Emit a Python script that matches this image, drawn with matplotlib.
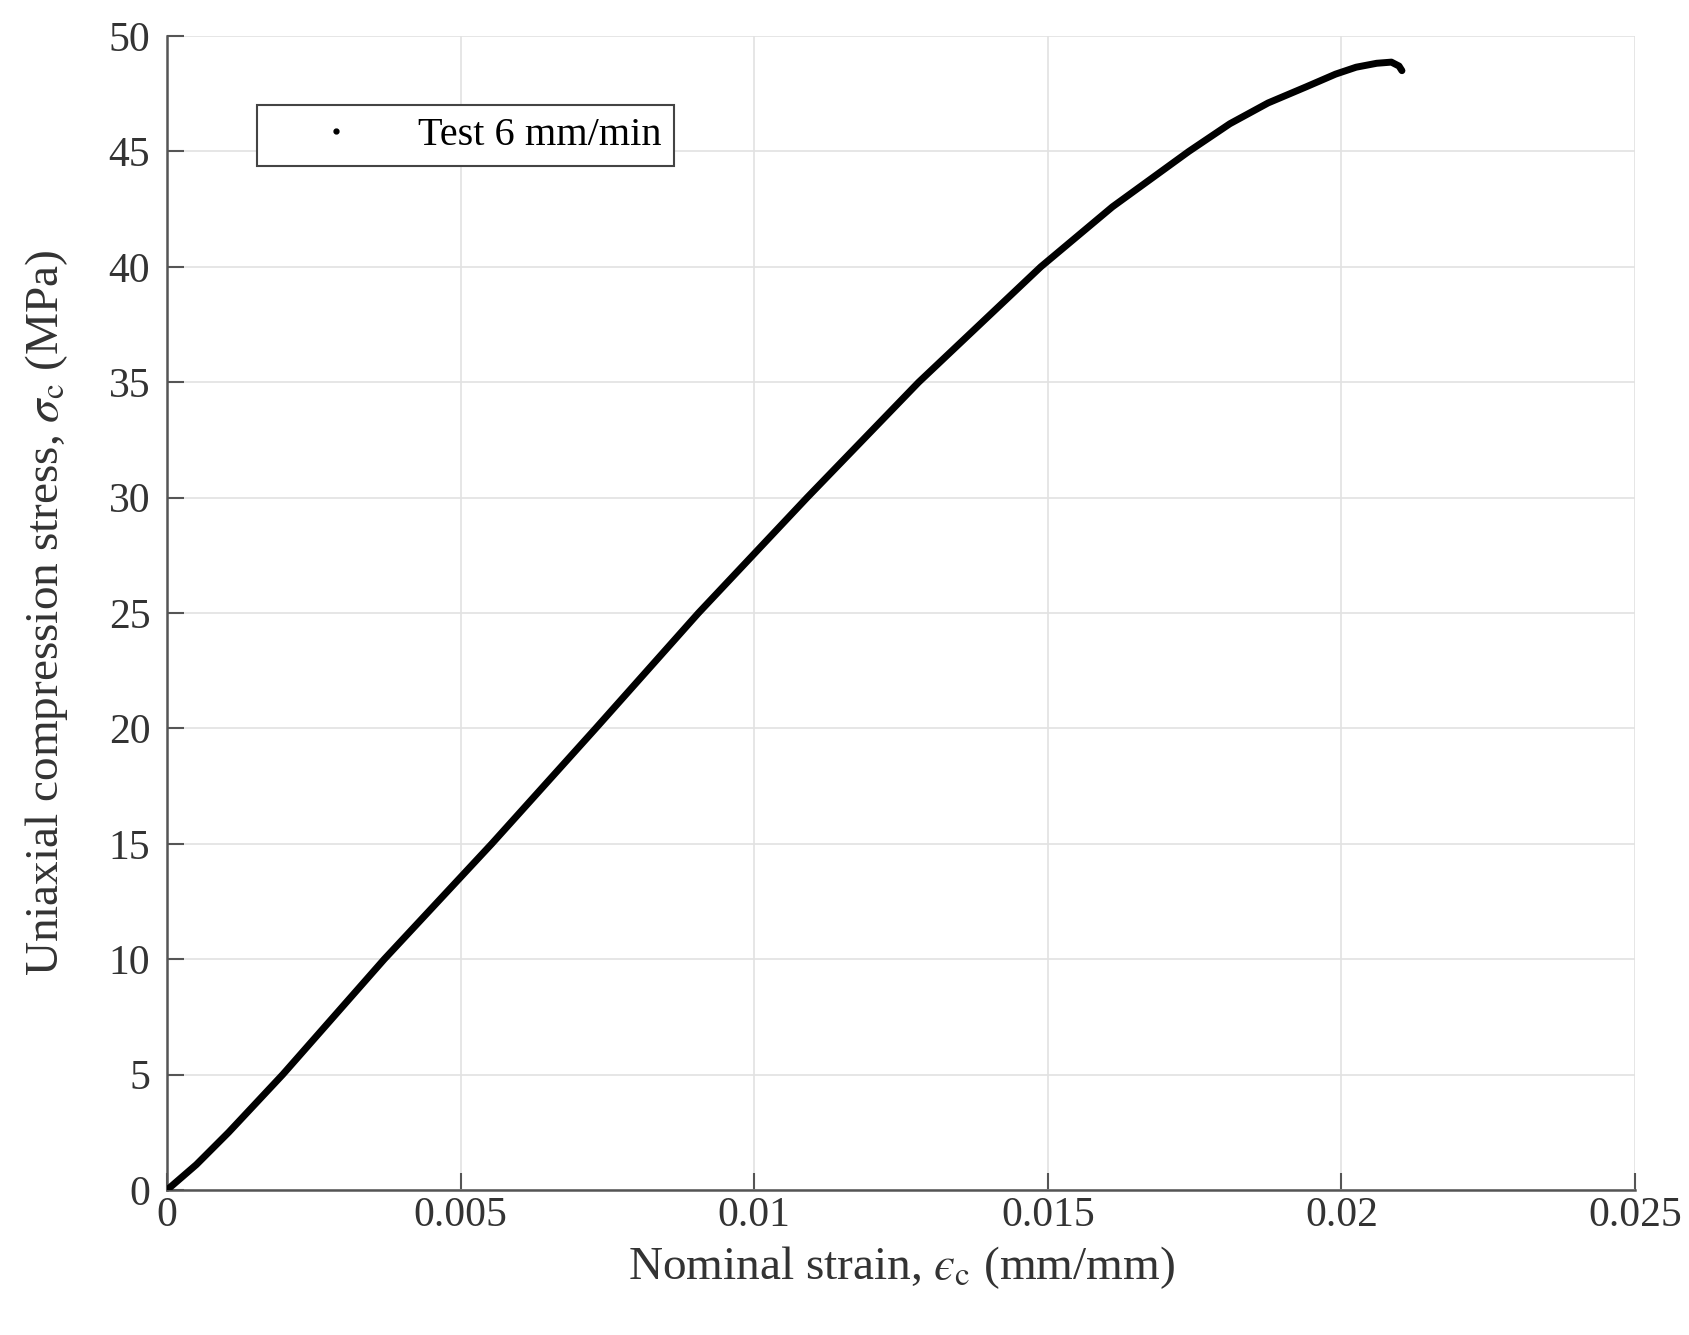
""" Stress-strain curve, uniaxial compression """
import matplotlib
matplotlib.use("Agg")
import matplotlib.pyplot as plt
from matplotlib.lines import Line2D

""" Data read off the curve """
strain = [0, 0.00050, 0.00105, 0.00197, 0.00370, 0.00553, 0.00730,
          0.00905, 0.01090, 0.01280, 0.01488, 0.01610, 0.01740, 0.01810,
          0.01875, 0.01940, 0.01990, 0.02025, 0.02060, 0.02085, 0.02098,
          0.02103]
stress = [0, 1.1, 2.5, 5, 10, 15, 20,
          25, 30, 35, 40, 42.6, 45, 46.2,
          47.1, 47.8, 48.35, 48.65, 48.82, 48.87, 48.7,
          48.5]
series_label = "Test 6 mm/min"
x_ticks = [0, 0.005, 0.01, 0.015, 0.02, 0.025]
x_ticklabels = ["0", "0.005", "0.01", "0.015", "0.02", "0.025"]
y_ticks = [0, 5, 10, 15, 20, 25, 30, 35, 40, 45, 50]

plt.rcParams['font.family'] = ['Liberation Serif', 'DejaVu Serif']
plt.rcParams['mathtext.fontset'] = 'stix'

fig = plt.figure(figsize=(16.9, 13.35), dpi=100)
ax = fig.add_axes([0.0988, 0.1086, 0.8687, 0.8644])

ax.plot(strain, stress, color='black', lw=5, solid_capstyle='round',
        solid_joinstyle='round', zorder=3)

ax.set_xlim(0, 0.025)
ax.set_ylim(0, 50)
ax.set_xticks(x_ticks)
ax.set_xticklabels(x_ticklabels)
ax.set_yticks(y_ticks)

# matlab-ish look: light grid, inward ticks, no box
ax.grid(True, color='#e2e2e2', lw=1.2)
ax.set_axisbelow(True)
for s in ['top', 'right']:
    ax.spines[s].set_visible(False)
for s in ['left', 'bottom']:
    ax.spines[s].set_color('#555555')
    ax.spines[s].set_linewidth(1.8)
ax.tick_params(axis='both', direction='in', length=12, width=1.5,
               color='#555555', labelsize=30, labelcolor='#333333')
ax.tick_params(axis='x', pad=5)
ax.tick_params(axis='y', pad=12)

ax.set_xlabel("Nominal strain, $\u03f5_{\\mathrm{c}}$ (mm/mm)",
              fontsize=34, color='#333333')
ax.set_ylabel(r"Uniaxial compression stress, $\sigma_{\mathrm{c}}$ (MPa)",
              fontsize=34, color='#333333')
ax.xaxis.set_label_coords(0.5, -0.047)
ax.yaxis.set_label_coords(-0.066, 0.5)

handle = Line2D([], [], color='black', marker='.', linestyle='none',
                markersize=7)
leg = ax.legend([handle], [series_label], loc='upper left',
                bbox_to_anchor=(0.0613, 0.9406), borderaxespad=0,
                fontsize=29, frameon=True, fancybox=False,
                handlelength=3.3, handletextpad=0.4, borderpad=0.3)
leg.get_frame().set_edgecolor('#444444')
leg.get_frame().set_linewidth(1.5)
leg.get_frame().set_alpha(1)

fig.savefig("out.png", dpi=100)
